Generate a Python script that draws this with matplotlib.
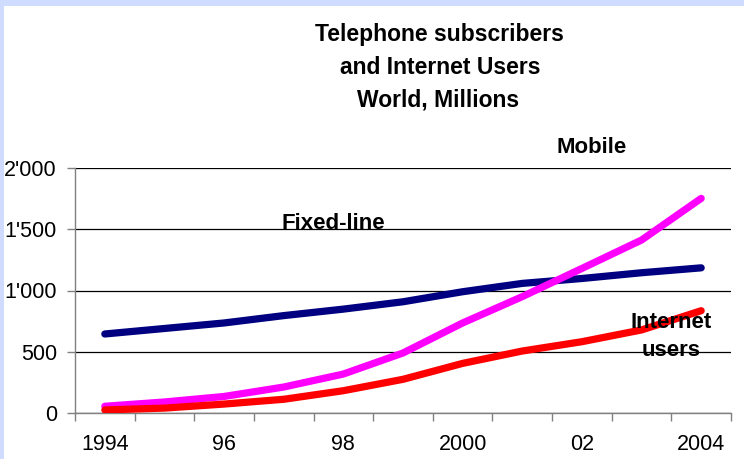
import matplotlib

matplotlib.use("Agg")
import matplotlib.pyplot as plt

W, H = 744, 459

years = list(range(1994, 2005))
year_labels = ["1994", "", "96", "", "98", "", "2000", "", "02", "", "2004"]
fixed_line = [645, 690, 735, 795, 848, 908, 990, 1058, 1098, 1145, 1185]
mobile = [55, 90, 135, 212, 318, 490, 735, 950, 1180, 1412, 1752]
internet = [25, 40, 73, 112, 182, 275, 405, 506, 582, 678, 835]
y_ticks = [0, 500, 1000, 1500, 2000]
y_labels = ["0", "500", "1'000", "1'500", "2'000"]

plt.rcParams["font.family"] = ["Liberation Sans", "DejaVu Sans"]

fig = plt.figure(figsize=(W / 100, H / 100), dpi=100)
fig.patch.set_facecolor("white")

# light blue border on top and left edge
BORDER = "#D0DCFF"
fig.add_artist(plt.Rectangle((0, 1 - 6 / H), 1, 6 / H, transform=fig.transFigure,
                             color=BORDER, lw=0, zorder=0))
fig.add_artist(plt.Rectangle((0, 0), 4 / W, 1, transform=fig.transFigure,
                             color=BORDER, lw=0, zorder=0))

ax = fig.add_axes([75 / W, (H - 413) / H, 656 / W, 245 / H])
x = list(range(len(years)))
ax.plot(x, fixed_line, color="#000080", lw=5.2, solid_capstyle="round", zorder=3)
ax.plot(x, mobile, color="#FF00FF", lw=5.2, solid_capstyle="round", zorder=4)
ax.plot(x, internet, color="#FF0000", lw=5.2, solid_capstyle="round", zorder=5)

ax.set_xlim(-0.5, len(years) - 0.5)
ax.set_ylim(0, 2000)
ax.set_yticks(y_ticks)
ax.set_yticklabels(y_labels, fontsize=15.5)
ax.set_xticks(x)
ax.set_xticklabels(year_labels, fontsize=15.5)
ax.set_xticks([i - 0.5 for i in range(len(years) + 1)], minor=True)
ax.tick_params(axis="x", which="major", length=0, pad=15)
ax.tick_params(axis="x", which="minor", length=6, width=1, color="#808080")
ax.tick_params(axis="y", length=6, width=1, color="#808080", pad=7)
for s in ("top", "right"):
    ax.spines[s].set_visible(False)
for s in ("left", "bottom"):
    ax.spines[s].set_color("#808080")
    ax.spines[s].set_linewidth(1)
ax.yaxis.grid(True, color="black", linewidth=0.9)
ax.set_axisbelow(True)
ax.patch.set_alpha(0)


def ftext(px, py, s, **kw):
    fig.text(px / W, 1 - py / H, s, ha="center", va="baseline",
             fontweight="bold", zorder=10, **kw)


ftext(439, 41.5, "Telephone subscribers", fontsize=16.5)
ftext(440, 73.5, "and Internet Users", fontsize=16.5)
ftext(438, 106.5, "World, Millions", fontsize=16.5)

ftext(592, 153, "Mobile", fontsize=16)
ftext(333, 229, "Fixed-line", fontsize=16)
ftext(671, 327.5, "Internet", fontsize=16)
ftext(671, 356.5, "users", fontsize=16)

fig.savefig("out.png", dpi=100)
